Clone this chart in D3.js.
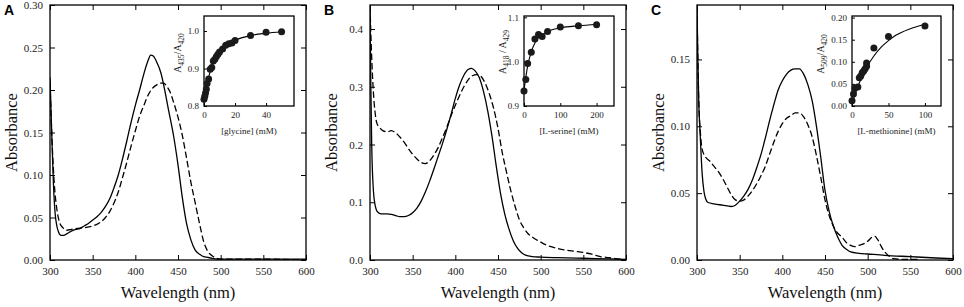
<!DOCTYPE html>
<html>
<head>
<meta charset="utf-8">
<script src="https://cdn.jsdelivr.net/npm/d3@7"></script>
<style>
  html, body { margin: 0; padding: 0; background: #fff; }
  svg { display: block; }
  svg text { font-family: "Liberation Serif", "Times New Roman", Times, serif; }
  .tick text { font-family: "Liberation Serif", "Times New Roman", Times, serif; fill: #222; }
  .tick line { stroke: #000; stroke-width: 1; }
  text.letter { font-family: "Liberation Sans", Arial, Helvetica, sans-serif; font-weight: bold; }
</style>
</head>
<body>
<svg id="chart" width="964" height="307"></svg>
<script>
// Absorption spectra (free vs ligand-bound) with titration insets.

// Panel A, glycine
const wlA1 = [300, 302, 304, 306, 308, 310, 313, 316, 320, 325, 330, 335, 340, 345, 350, 355, 360, 365, 370, 375, 380, 385, 390, 395, 400, 405, 410, 415, 418, 421, 425, 430, 435, 439, 445, 450, 455, 460, 465, 470, 475, 480, 485, 490, 500, 550, 600];
const absA1 = [0.215, 0.15, 0.09, 0.055, 0.04, 0.033, 0.029, 0.029, 0.031, 0.034, 0.036, 0.037, 0.04, 0.043, 0.047, 0.051, 0.056, 0.063, 0.072, 0.085, 0.1, 0.119, 0.14, 0.162, 0.182, 0.2, 0.219, 0.235, 0.241, 0.24, 0.233, 0.22, 0.197, 0.176, 0.145, 0.112, 0.074, 0.043, 0.024, 0.012, 0.007, 0.004, 0.003, 0.002, 0.001, 0.001, 0.001];
const wlA2 = [300, 302, 305, 308, 311, 315, 320, 325, 330, 340, 350, 355, 360, 365, 370, 375, 380, 385, 390, 395, 400, 405, 410, 415, 420, 425, 430, 433, 437, 441, 445, 450, 455, 460, 465, 470, 475, 480, 485, 490, 495, 500, 550, 600];
const absA2 = [0.21, 0.15, 0.09, 0.06, 0.045, 0.038, 0.035, 0.036, 0.037, 0.038, 0.04, 0.042, 0.045, 0.05, 0.057, 0.067, 0.08, 0.097, 0.115, 0.134, 0.152, 0.169, 0.182, 0.194, 0.202, 0.206, 0.208, 0.208, 0.204, 0.197, 0.185, 0.168, 0.147, 0.12, 0.092, 0.068, 0.044, 0.022, 0.01, 0.005, 0.002, 0.001, 0.001, 0.0];

// Panel B, L-serine
const wlB1 = [300, 301, 302, 304, 306, 309, 313, 320, 325, 330, 335, 340, 345, 350, 355, 360, 365, 370, 375, 380, 385, 390, 395, 400, 405, 410, 415, 419, 423, 428, 433, 438, 443, 448, 453, 458, 463, 468, 473, 478, 483, 490, 500, 520, 550, 580, 600];
const absB1 = [0.44, 0.3, 0.2, 0.12, 0.095, 0.083, 0.08, 0.08, 0.079, 0.077, 0.075, 0.075, 0.077, 0.082, 0.09, 0.102, 0.118, 0.137, 0.158, 0.18, 0.202, 0.226, 0.252, 0.28, 0.303, 0.32, 0.33, 0.332, 0.328, 0.316, 0.292, 0.258, 0.214, 0.162, 0.115, 0.079, 0.053, 0.033, 0.02, 0.012, 0.008, 0.006, 0.005, 0.004, 0.003, 0.002, 0.001];
const wlB2 = [300, 302, 304, 306, 308, 311, 315, 320, 325, 330, 335, 340, 345, 350, 355, 360, 365, 370, 375, 380, 385, 390, 395, 400, 405, 410, 415, 420, 425, 430, 435, 440, 445, 450, 455, 460, 465, 470, 475, 480, 485, 490, 495, 500, 505, 510, 520, 530, 540, 550, 560, 570, 580, 590, 600];
const absB2 = [0.44, 0.35, 0.29, 0.255, 0.237, 0.23, 0.224, 0.222, 0.224, 0.22, 0.213, 0.204, 0.193, 0.183, 0.175, 0.169, 0.167, 0.172, 0.182, 0.195, 0.212, 0.23, 0.25, 0.268, 0.285, 0.3, 0.312, 0.319, 0.321, 0.318, 0.306, 0.287, 0.262, 0.228, 0.186, 0.152, 0.12, 0.093, 0.07, 0.056, 0.046, 0.04, 0.035, 0.031, 0.027, 0.024, 0.02, 0.017, 0.015, 0.013, 0.01, 0.006, 0.004, 0.002, 0.0];

// Panel C, L-methionine
const wlC1 = [300, 301, 302, 304, 306, 308, 310, 313, 320, 330, 340, 345, 350, 355, 360, 365, 370, 375, 380, 385, 390, 395, 400, 405, 410, 415, 420, 425, 430, 435, 440, 445, 450, 455, 460, 465, 470, 475, 480, 490, 500, 520, 550, 580, 600];
const absC1 = [0.19, 0.15, 0.12, 0.09, 0.065, 0.052, 0.046, 0.043, 0.042, 0.041, 0.04, 0.041, 0.044, 0.048, 0.053, 0.06, 0.069, 0.079, 0.091, 0.104, 0.116, 0.127, 0.134, 0.139, 0.142, 0.143, 0.143, 0.139, 0.131, 0.119, 0.1, 0.077, 0.052, 0.036, 0.025, 0.017, 0.011, 0.008, 0.006, 0.005, 0.0045, 0.0035, 0.0025, 0.0015, 0.001];
const wlC2 = [300, 301, 302, 304, 306, 310, 315, 320, 325, 330, 335, 340, 345, 350, 355, 360, 365, 370, 375, 380, 385, 390, 395, 400, 405, 410, 415, 420, 425, 430, 435, 440, 445, 450, 455, 460, 465, 470, 475, 480, 485, 490, 495, 500, 505, 508, 512, 516, 520, 525, 530, 540, 560];
const absC2 = [0.19, 0.15, 0.12, 0.095, 0.083, 0.077, 0.074, 0.07, 0.066, 0.061, 0.055, 0.049, 0.045, 0.044, 0.045, 0.048, 0.052, 0.057, 0.063, 0.07, 0.079, 0.088, 0.096, 0.102, 0.106, 0.108, 0.11, 0.11, 0.107, 0.101, 0.092, 0.078, 0.062, 0.045, 0.033, 0.025, 0.02, 0.017, 0.013, 0.011, 0.01, 0.011, 0.012, 0.014, 0.017, 0.0178, 0.015, 0.01, 0.006, 0.003, 0.001, 0.0005, 0.0005];

// Insets: titration points and fitted curves
const glyConc = [0, 0.5, 1, 1.5, 2, 3, 4, 5, 6, 7, 8, 9, 10, 12, 14, 16, 18, 20, 30, 40, 50];
const glyRatio = [0.818, 0.826, 0.835, 0.845, 0.86, 0.872, 0.898, 0.903, 0.92, 0.925, 0.932, 0.938, 0.944, 0.952, 0.962, 0.966, 0.968, 0.975, 0.988, 0.997, 0.998];
const glyFitX = [0, 2, 5, 10, 15, 20, 30, 40, 50];
const glyFitY = [0.82, 0.86, 0.905, 0.944, 0.963, 0.975, 0.988, 0.994, 0.998];

const serConc = [0, 5, 10, 20, 30, 40, 50, 65, 100, 150, 200];
const serRatio = [0.934, 0.96, 0.996, 1.021, 1.051, 1.061, 1.057, 1.068, 1.078, 1.081, 1.083];
const serFitX = [0, 5, 10, 20, 30, 40, 60, 100, 150, 200];
const serFitY = [0.935, 0.965, 0.99, 1.022, 1.042, 1.054, 1.066, 1.076, 1.081, 1.084];

const metConc = [0, 2, 4, 8, 10, 12, 14, 16, 18, 20, 20, 30, 50, 100];
const metRatio = [0.012, 0.027, 0.041, 0.043, 0.064, 0.068, 0.075, 0.079, 0.084, 0.097, 0.09, 0.131, 0.157, 0.181];
const metFitX = [0, 5, 10, 15, 20, 30, 40, 50, 60, 80, 100];
const metFitY = [0.005, 0.03, 0.052, 0.07, 0.087, 0.113, 0.133, 0.148, 0.16, 0.175, 0.185];

const xTicks = [300, 350, 400, 450, 500, 550, 600];

const zip = (xs, ys) => xs.map((x, i) => [x, ys[i]]);

const panels = [
  {
    letter: 'A', left: 50, yMax: 0.30, yTicks: [0, 0.05, 0.1, 0.15, 0.2, 0.25, 0.3], yFmt: '.2f',
    solid: zip(wlA1, absA1), dashed: zip(wlA2, absA2),
    inset: {
      x0: 204, x1: 294, xMax: 58, xTicks: [0, 20, 40], yDom: [0.8, 1.04], yTicks: [0.8, 0.9, 1.0], yFmt: '.1f',
      pts: zip(glyConc, glyRatio), fit: zip(glyFitX, glyFitY),
      yLabel: [['A', 0], ['435', 1], ['/A', 0], ['420', 1]], yLabelX: 181, yLabelY: 53, xLabel: '[glycine] (mM)'
    }
  },
  {
    letter: 'B', left: 370, yMax: 0.4416, yTicks: [0, 0.1, 0.2, 0.3, 0.4], yFmt: '.1f',
    solid: zip(wlB1, absB1), dashed: zip(wlB2, absB2),
    inset: {
      x0: 524, x1: 614, xMax: 248, xTicks: [0, 100, 200], yDom: [0.9, 1.103], yTicks: [0.9, 1.0, 1.1], yFmt: '.1f',
      pts: zip(serConc, serRatio), fit: zip(serFitX, serFitY),
      yLabel: [['A', 0], ['418', 1], [' / A', 0], ['429', 1]], yLabelX: 506, yLabelY: 52, xLabel: '[L-serine] (mM)'
    }
  },
  {
    letter: 'C', left: 697, yMax: 0.1907, yTicks: [0, 0.05, 0.1, 0.15], yFmt: '.2f',
    solid: zip(wlC1, absC1), dashed: zip(wlC2, absC2),
    inset: {
      x0: 852, x1: 941, xMax: 122, xTicks: [0, 50, 100], yDom: [0, 0.2036], yTicks: [0, 0.05, 0.1, 0.15, 0.2], yFmt: '.2f',
      pts: zip(metConc, metRatio), fit: zip(metFitX, metFitY),
      yLabel: [['A', 0], ['509', 1], ['/A', 0], ['420', 1]], yLabelX: 824, yLabelY: 54, xLabel: '[L-methionine] (mM)'
    }
  }
];

const TOP = 5, BOTTOM = 260, WIDTH = 256;
const INSET_TOP = 16, INSET_BOTTOM = 106;

const svg = d3.select('#chart');

function drawPanel(p) {
  const g = svg.append('g');
  const x = d3.scaleLinear().domain([300, 600]).range([p.left, p.left + WIDTH]);
  const y = d3.scaleLinear().domain([0, p.yMax]).range([BOTTOM, TOP]);

  // clip so the steep start of each trace stays inside the frame
  const clipId = 'clip-' + p.letter;
  svg.append('clipPath').attr('id', clipId)
    .append('rect')
    .attr('x', p.left).attr('y', TOP)
    .attr('width', WIDTH).attr('height', BOTTOM - TOP);

  const line = d3.line().x(d => x(d[0])).y(d => y(d[1])).curve(d3.curveMonotoneX);

  g.append('path')
    .attr('d', line(p.solid))
    .attr('clip-path', `url(#${clipId})`)
    .attr('fill', 'none').attr('stroke', '#000').attr('stroke-width', 1.3);

  g.append('path')
    .attr('d', line(p.dashed))
    .attr('clip-path', `url(#${clipId})`)
    .attr('fill', 'none').attr('stroke', '#000').attr('stroke-width', 1.3)
    .attr('stroke-dasharray', '6.5,3');

  // inward ticks on all four sides
  const xb = g.append('g').attr('transform', `translate(0,${BOTTOM})`)
    .call(d3.axisBottom(x).tickValues(xTicks).tickSizeInner(-5).tickSizeOuter(0).tickPadding(7).tickFormat(d3.format('d')));
  const xt = g.append('g').attr('transform', `translate(0,${TOP})`)
    .call(d3.axisTop(x).tickValues(xTicks).tickSizeInner(-5).tickSizeOuter(0).tickFormat(''));
  const yl = g.append('g').attr('transform', `translate(${p.left},0)`)
    .call(d3.axisLeft(y).tickValues(p.yTicks).tickSizeInner(-5).tickSizeOuter(0).tickPadding(7).tickFormat(d3.format(p.yFmt)));
  const yr = g.append('g').attr('transform', `translate(${p.left + WIDTH},0)`)
    .call(d3.axisRight(y).tickValues(p.yTicks).tickSizeInner(-5).tickSizeOuter(0).tickFormat(''));

  [xb, xt, yl, yr].forEach(a => a.select('.domain').remove());
  xb.selectAll('text').attr('font-size', 11);
  yl.selectAll('text').attr('font-size', 11);

  g.append('rect')
    .attr('x', p.left).attr('y', TOP)
    .attr('width', WIDTH).attr('height', BOTTOM - TOP)
    .attr('fill', 'none').attr('stroke', '#000').attr('stroke-width', 1.3);

  g.append('text')
    .attr('x', p.left + WIDTH / 2).attr('y', 298)
    .attr('text-anchor', 'middle')
    .attr('font-size', 16.5).attr('fill', '#111')
    .text('Wavelength (nm)');

  g.append('text')
    .attr('transform', `translate(${p.left - 33},${(TOP + BOTTOM) / 2}) rotate(-90)`)
    .attr('text-anchor', 'middle')
    .attr('font-size', 16.5).attr('fill', '#111')
    .text('Absorbance');

  g.append('text')
    .attr('class', 'letter')
    .attr('x', p.left - 46).attr('y', 15)
    .attr('font-size', 14)
    .text(p.letter);

  drawInset(g, p.inset);
}

function drawInset(g, s) {
  const x = d3.scaleLinear().domain([0, s.xMax]).range([s.x0, s.x1]);
  const y = d3.scaleLinear().domain(s.yDom).range([INSET_BOTTOM, INSET_TOP]);

  g.append('rect')
    .attr('x', s.x0).attr('y', INSET_TOP)
    .attr('width', s.x1 - s.x0).attr('height', INSET_BOTTOM - INSET_TOP)
    .attr('fill', '#fff').attr('stroke', '#000').attr('stroke-width', 1.3);

  const xa = g.append('g').attr('transform', `translate(0,${INSET_BOTTOM})`)
    .call(d3.axisBottom(x).tickValues(s.xTicks).tickSizeInner(-3).tickSizeOuter(0).tickPadding(6).tickFormat(d3.format('d')));
  const ya = g.append('g').attr('transform', `translate(${s.x0},0)`)
    .call(d3.axisLeft(y).tickValues(s.yTicks).tickSizeInner(-3).tickSizeOuter(0).tickPadding(5).tickFormat(d3.format(s.yFmt)));
  [xa, ya].forEach(a => {
    a.select('.domain').remove();
    a.selectAll('text').attr('font-size', 9);
  });

  const fit = d3.line().x(d => x(d[0])).y(d => y(d[1])).curve(d3.curveMonotoneX);
  g.append('path')
    .attr('d', fit(s.fit))
    .attr('fill', 'none').attr('stroke', '#000').attr('stroke-width', 1.1);

  g.selectAll(null).data(s.pts).enter().append('circle')
    .attr('cx', d => x(d[0])).attr('cy', d => y(d[1]))
    .attr('r', 3.5).attr('fill', '#1a1a1a');

  g.append('text')
    .attr('x', (s.x0 + s.x1) / 2).attr('y', 134)
    .attr('text-anchor', 'middle')
    .attr('font-size', 9).attr('fill', '#222')
    .text(s.xLabel);

  const lab = g.append('text')
    .attr('transform', `translate(${s.yLabelX},${s.yLabelY}) rotate(-90)`)
    .attr('text-anchor', 'middle')
    .attr('font-size', 10).attr('fill', '#222');
  s.yLabel.forEach(([t, sub], i) => {
    const prevSub = i > 0 ? s.yLabel[i - 1][1] : 0;
    lab.append('tspan')
      .attr('font-size', sub ? 7.5 : 10)
      .attr('dy', sub && !prevSub ? 2.5 : (!sub && prevSub ? -2.5 : 0))
      .text(t);
  });
}

panels.forEach(drawPanel);
</script>
</body>
</html>
